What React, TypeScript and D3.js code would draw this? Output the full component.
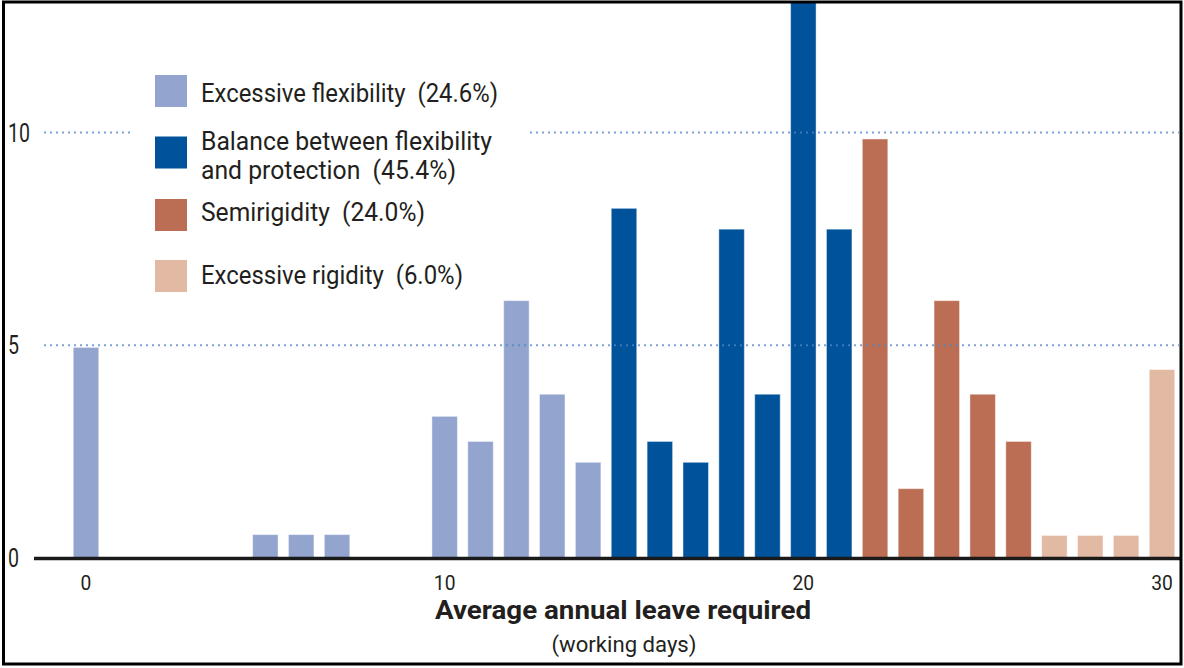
import React from "react";
import * as d3 from "d3";

// ---- Data (share of countries, %, by average annual leave required, working days)
const excessiveFlexibilityDays = [0, 5, 6, 7, 10, 11, 12, 13, 14];
const excessiveFlexibilityValues = [4.95, 0.55, 0.55, 0.55, 3.33, 2.74, 6.05, 3.85, 2.25];

const balanceDays = [15, 16, 17, 18, 19, 20, 21];
const balanceValues = [8.22, 2.74, 2.25, 7.73, 3.85, 13.6, 7.73];

const semirigidityDays = [22, 23, 24, 25, 26];
const semirigidityValues = [9.85, 1.63, 6.05, 3.85, 2.74];

const excessiveRigidityDays = [27, 28, 29, 30];
const excessiveRigidityValues = [0.53, 0.53, 0.53, 4.43];

const seriesNames = [
  "Excessive flexibility\u00A0\u00A0(24.6%)",
  "Balance between flexibility|and protection\u00A0\u00A0(45.4%)",
  "Semirigidity\u00A0\u00A0(24.0%)",
  "Excessive rigidity\u00A0\u00A0(6.0%)",
];
const seriesColors = ["#93a5cf", "#00539b", "#bb6e53", "#e2b9a3"];

const xTicks = [0, 10, 20, 30];
const yTicks = [0, 5, 10];
const gridTicks = [5, 10];

const xTitle = "Average annual leave required";
const xSubtitle = "(working days)";

export default function App() {
  const W = 1184;
  const H = 668;
  const x = d3.scaleLinear().domain([0, 30]).range([86, 1162]);
  const y = d3.scaleLinear().domain([0, 10]).range([558, 132.6]);
  const barW = 25.5;

  const series = [
    { days: excessiveFlexibilityDays, values: excessiveFlexibilityValues },
    { days: balanceDays, values: balanceValues },
    { days: semirigidityDays, values: semirigidityValues },
    { days: excessiveRigidityDays, values: excessiveRigidityValues },
  ];

  const font = "Roboto, 'Open Sans', 'DejaVu Sans', sans-serif";
  const textColor = "#231f20";

  // legend layout
  const legendSwatchY = [75, 136.5, 199, 260];
  const legendBaselines = [[101.5], [149.5, 178.5], [221], [283.5]];
  const legendWidths = [[297], [291, 255], [224], [262]];

  return (
    <div style={{ position: "fixed", left: 0, top: 0, width: W, height: H, background: "#fff" }}>
      <svg width={W} height={H} style={{ display: "block" }}>
        <defs>
          <clipPath id="plotClip">
            <rect x={0} y={3} width={W} height={H} />
          </clipPath>
        </defs>
        <rect x={0} y={0} width={W} height={H} fill="#fff" />

        {/* bars */}
        <g clipPath="url(#plotClip)">
          {series.map((s, si) =>
            s.days.map((d, i) => (
              <rect
                key={`${si}-${d}`}
                x={x(d) - barW / 2}
                y={y(s.values[i])}
                width={barW}
                height={y(0) - y(s.values[i])}
                fill={seriesColors[si]}
                stroke="#ffffff"
                strokeOpacity={0.45}
                strokeWidth={1}
              />
            ))
          )}
        </g>

        {/* dotted gridlines */}
        {gridTicks.map((t) => (
          <line
            key={`g${t}`}
            x1={44}
            x2={1179}
            y1={y(t)}
            y2={y(t)}
            stroke="#4f86c4"
            strokeOpacity={0.75}
            strokeWidth={2}
            strokeDasharray="2 4"
          />
        ))}

        {/* legend background (interrupts the 10 gridline) */}
        <rect x={134} y={62} width={394} height={236} fill="#fff" />

        {/* legend */}
        {seriesNames.map((name, i) => (
          <g key={`l${i}`}>
            <rect x={155} y={legendSwatchY[i]} width={32} height={32} fill={seriesColors[i]} />
            {name.split("|").map((line, j) => (
              <text
                key={j}
                x={201}
                y={legendBaselines[i][j]}
                fontFamily={font}
                fontSize={25}
                fill={textColor}
                textLength={legendWidths[i][j]}
                lengthAdjust="spacingAndGlyphs"
              >
                {line}
              </text>
            ))}
          </g>
        ))}

        {/* baseline */}
        <line x1={34} x2={1180} y1={y(0) + 0.5} y2={y(0) + 0.5} stroke="#1a1a1a" strokeWidth={3.5} />

        {/* y tick labels */}
        {yTicks.map((t) => (
          <text
            key={`y${t}`}
            x={8}
            y={y(t) + 9}
            fontFamily={font}
            fontSize={25}
            fill={textColor}
            textLength={String(t).length * 11}
            lengthAdjust="spacingAndGlyphs"
          >
            {t}
          </text>
        ))}

        {/* x tick labels */}
        {xTicks.map((t) => (
          <text
            key={`x${t}`}
            x={x(t)}
            y={590}
            textAnchor="middle"
            fontFamily={font}
            fontSize={21}
            fill={textColor}
            textLength={String(t).length * 10.8}
            lengthAdjust="spacingAndGlyphs"
          >
            {t}
          </text>
        ))}

        {/* axis title */}
        <text
          x={623}
          y={619}
          textAnchor="middle"
          fontFamily={font}
          fontWeight={700}
          fontSize={26}
          fill={textColor}
          textLength={376}
          lengthAdjust="spacingAndGlyphs"
        >
          {xTitle}
        </text>
        <text
          x={624}
          y={652}
          textAnchor="middle"
          fontFamily={font}
          fontSize={22}
          fill={textColor}
          textLength={145}
          lengthAdjust="spacingAndGlyphs"
        >
          {xSubtitle}
        </text>

        {/* frame */}
        <rect x={3.5} y={2} width={1177.5} height={662} fill="none" stroke="#000" strokeWidth={3} />
      </svg>
    </div>
  );
}
